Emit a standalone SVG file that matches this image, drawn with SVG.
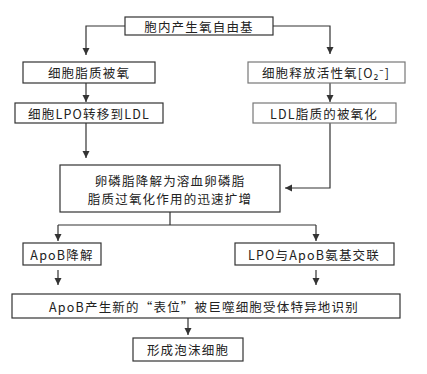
<svg xmlns="http://www.w3.org/2000/svg" width="427" height="374" viewBox="0 0 427 374">
<defs>
<marker id="ah" markerWidth="8" markerHeight="8" refX="7" refY="4" orient="auto" markerUnits="userSpaceOnUse">
<path d="M0,0.5 L7,4 L0,7.5 Z" fill="#333"/>
</marker>
<style>
rect{fill:#fff;stroke:#333;stroke-width:1.2}
.lt{stroke:#777}
text{font-family:"Noto Sans CJK SC","Noto Sans",sans-serif;font-size:12.5px;fill:#222;text-anchor:middle;dominant-baseline:central;letter-spacing:1.2px}
#connectors path{fill:none;stroke:#333;stroke-width:1.2}
</style>
</defs>
<rect width="427" height="374" style="fill:#fff;stroke:none"/>
<g id="connectors">
<path d="M125,26 H86 V55" marker-end="url(#ah)"/>
<path d="M273,26 H330 V54" marker-end="url(#ah)"/>
<path d="M86,83 V102" marker-end="url(#ah)"/>
<path d="M330,83 V102" marker-end="url(#ah)"/>
<path d="M86,123 V158" marker-end="url(#ah)"/>
<path d="M330,123 V188 H285" marker-end="url(#ah)"/>
<path d="M170,212 V225 M58,225 H316"/>
<path d="M58,225 V241" marker-end="url(#ah)"/>
<path d="M316,225 V241" marker-end="url(#ah)"/>
<path d="M58,270 V285" marker-end="url(#ah)"/>
<path d="M316,270 V285" marker-end="url(#ah)"/>
<path d="M188,318 V335" marker-end="url(#ah)"/>
</g>
<g id="n1"><rect x="125" y="17" width="148" height="18"/><text x="199" y="26">胞内产生氧自由基</text></g>
<g id="n2"><rect x="23" y="62" width="132" height="21"/><text x="89" y="72.5">细胞脂质被氧</text></g>
<g id="n3"><rect class="lt" x="248" y="62" width="157" height="21"/><text x="326" y="72.5">细胞释放活性氧[O₂⁻]</text></g>
<g id="n4"><rect x="15" y="103" width="148" height="20"/><text x="89" y="113">细胞LPO转移到LDL</text></g>
<g id="n5"><rect class="lt" x="253" y="103" width="143" height="20"/><text x="324" y="113">LDL脂质的被氧化</text></g>
<g id="n6"><rect x="60" y="165" width="220" height="47"/><text x="170" y="180">卵磷脂降解为溶血卵磷脂</text><text x="170" y="198">脂质过氧化作用的迅速扩增</text></g>
<g id="n7"><rect x="23" y="243" width="78" height="22"/><text x="62" y="254">ApoB降解</text></g>
<g id="n8"><rect x="235" y="243" width="159" height="22"/><text x="314" y="254">LPO与ApoB氨基交联</text></g>
<g id="n9"><rect x="12" y="294" width="388" height="24"/><text x="204" y="306">ApoB产生新的“表位”被巨噬细胞受体特异地识别</text></g>
<g id="n10"><rect x="133" y="338" width="110" height="23"/><text x="188" y="349.5">形成泡沫细胞</text></g>
</svg>
